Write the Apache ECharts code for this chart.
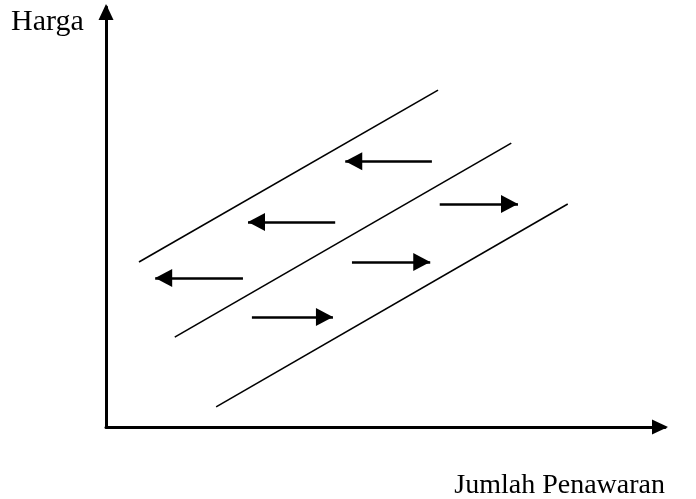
<!DOCTYPE html>
<html><head><meta charset="utf-8">
<script src="https://cdn.jsdelivr.net/npm/echarts@6/dist/echarts.min.js"></script>
<style>html,body{margin:0;padding:0;background:#fff}#c{width:696px;height:499px}</style>
</head><body><div id="c"></div>
<script>
// Supply curves (x = quantity, y = price)
const curveNames = ['S1', 'S0', 'S2'];
const curveStart = [[5.9, 39.3], [12.3, 21.4], [19.7, 4.8]];
const curveEnd = [[59.4, 80.2], [72.5, 67.6], [82.6, 53.1]];
// Shift arrows: [tailX, y] -> [headX, y]
const arrowTail = [[58.3, 63.3], [41.0, 48.8], [24.5, 35.5], [59.7, 53.1], [44.0, 39.3], [26.1, 26.2]];
const arrowHead = [[42.8, 63.3], [25.4, 48.8], [8.8, 35.5], [73.7, 53.1], [58.0, 39.3], [40.6, 26.2]];
const axisNames = ['Jumlah Penawaran', 'Harga'];

const chart = echarts.init(document.getElementById('c'), null, {renderer: 'canvas'});
const FONT = '"Liberation Serif", "Times New Roman", serif';
const axisCommon = {
  type: 'value', min: 0, max: 100,
  axisLine: {show: true, lineStyle: {color: '#000', width: 3}, symbol: ['none', 'triangle'], symbolSize: [15, 16], symbolOffset: [0, -5]},
  axisTick: {show: false}, axisLabel: {show: false}, splitLine: {show: false}
};
// square-bbox symbol: triangle tip at the centre (line end point), body behind it
const HEAD = 'path://M0,0 L0,0 M34,0 L34,0 M17,17 L26,34 L8,34 Z';
chart.setOption({
  animation: false,
  backgroundColor: '#fff',
  grid: {left: 106, right: 31, top: 7, bottom: 72, containLabel: false},
  xAxis: axisCommon,
  yAxis: axisCommon,
  graphic: [
    {type: 'text', left: 11, top: 7, style: {text: axisNames[1], font: '30px ' + FONT, fill: '#000'}},
    {type: 'text', right: 31, top: 472, style: {text: axisNames[0], font: '28px ' + FONT, fill: '#000'}}
  ],
  series: [
    {
      type: 'lines', coordinateSystem: 'cartesian2d', silent: true,
      lineStyle: {color: '#000', width: 1.6, opacity: 1},
      data: curveNames.map((n, i) => ({name: n, coords: [curveStart[i], curveEnd[i]]}))
    },
    {
      type: 'lines', coordinateSystem: 'cartesian2d', silent: true,
      symbol: ['none', HEAD], symbolSize: 34,
      lineStyle: {color: '#000', width: 2.5, opacity: 1},
      itemStyle: {color: '#000'},
      data: arrowTail.map((t, i) => ({coords: [t, arrowHead[i]]}))
    }
  ]
});
</script></body></html>
